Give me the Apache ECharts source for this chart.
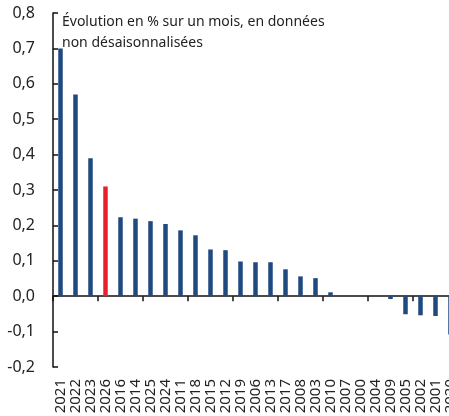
<!DOCTYPE html>
<html>
<head>
<meta charset="utf-8">
<script src="https://cdn.jsdelivr.net/npm/echarts@6/dist/echarts.min.js"></script>
<style>
  html, body { margin: 0; padding: 0; background: #fff; }
  #chart { width: 449px; height: 416px; }
</style>
</head>
<body>
<div id="chart"></div>
<script>
// années classées par évolution
var years = ['2021','2022','2023','2026','2016','2014','2025','2024','2011','2018','2015','2012','2019',
  '2006','2013','2017','2008','2003','2010','2007','2000','2004','2009','2005','2002','2001','2020'];
var values = [0.70, 0.57, 0.39, 0.31, 0.223, 0.219, 0.212, 0.204, 0.186, 0.172, 0.132, 0.13, 0.098,
  0.096, 0.096, 0.076, 0.056, 0.051, 0.011, 0, 0, 0, -0.008, -0.051, -0.054, -0.056, -0.108];
var highlightYear = '2026';
var yTicks = { min: -0.2, max: 0.8, step: 0.1 };
var noteText = 'Évolution en % sur un mois, en données\nnon désaisonnalisées';

var blue = '#1f4a80';
var red = '#e8202c';
var font = 'Noto Sans';

var chart = echarts.init(document.getElementById('chart'));

var barData = values.map(function (v, i) {
  return {
    value: v,
    itemStyle: { color: years[i] === highlightYear ? red : blue }
  };
});

var option = {
  animation: false,
  textStyle: { fontFamily: font, color: '#222' },
  title: {
    text: noteText,
    left: 62,
    top: 12,
    padding: 0,
    textStyle: { fontFamily: font, fontSize: 14, fontWeight: 'normal', color: '#222', lineHeight: 21 }
  },
  // le graphique déborde à droite (dernière barre coupée)
  grid: { left: 53, top: 13, width: 405, height: 354, outerBoundsMode: 'none', containLabel: false },
  xAxis: [
    {
      // axe au niveau du zéro : ligne et graduations
      type: 'category',
      data: years,
      axisLine: { onZero: true, lineStyle: { color: '#111', width: 1.5 } },
      axisTick: { show: true, length: 5, lineStyle: { color: '#111', width: 1.5 } },
      axisLabel: { show: false },
      splitLine: { show: false }
    },
    {
      // libellés en bas du graphique
      type: 'category',
      data: years,
      position: 'bottom',
      axisLine: { show: false, onZero: false },
      axisTick: { show: false },
      axisLabel: { rotate: 90, margin: 12, fontSize: 15, color: '#222', fontFamily: font, interval: 0 },
      splitLine: { show: false }
    }
  ],
  yAxis: {
    type: 'value',
    min: yTicks.min,
    max: yTicks.max,
    interval: yTicks.step,
    axisLine: { show: true, lineStyle: { color: '#111', width: 1.5 } },
    axisTick: { show: true, inside: true, length: 5, lineStyle: { color: '#111', width: 1.5 } },
    splitLine: { show: false },
    axisLabel: {
      margin: 18,
      fontSize: 16,
      color: '#222',
      fontFamily: font,
      formatter: function (v) { return v.toFixed(1).replace('.', ','); }
    }
  },
  series: [{
    type: 'bar',
    xAxisIndex: 0,
    data: barData,
    barWidth: 4.5
  }]
};

chart.setOption(option);
</script>
</body>
</html>
